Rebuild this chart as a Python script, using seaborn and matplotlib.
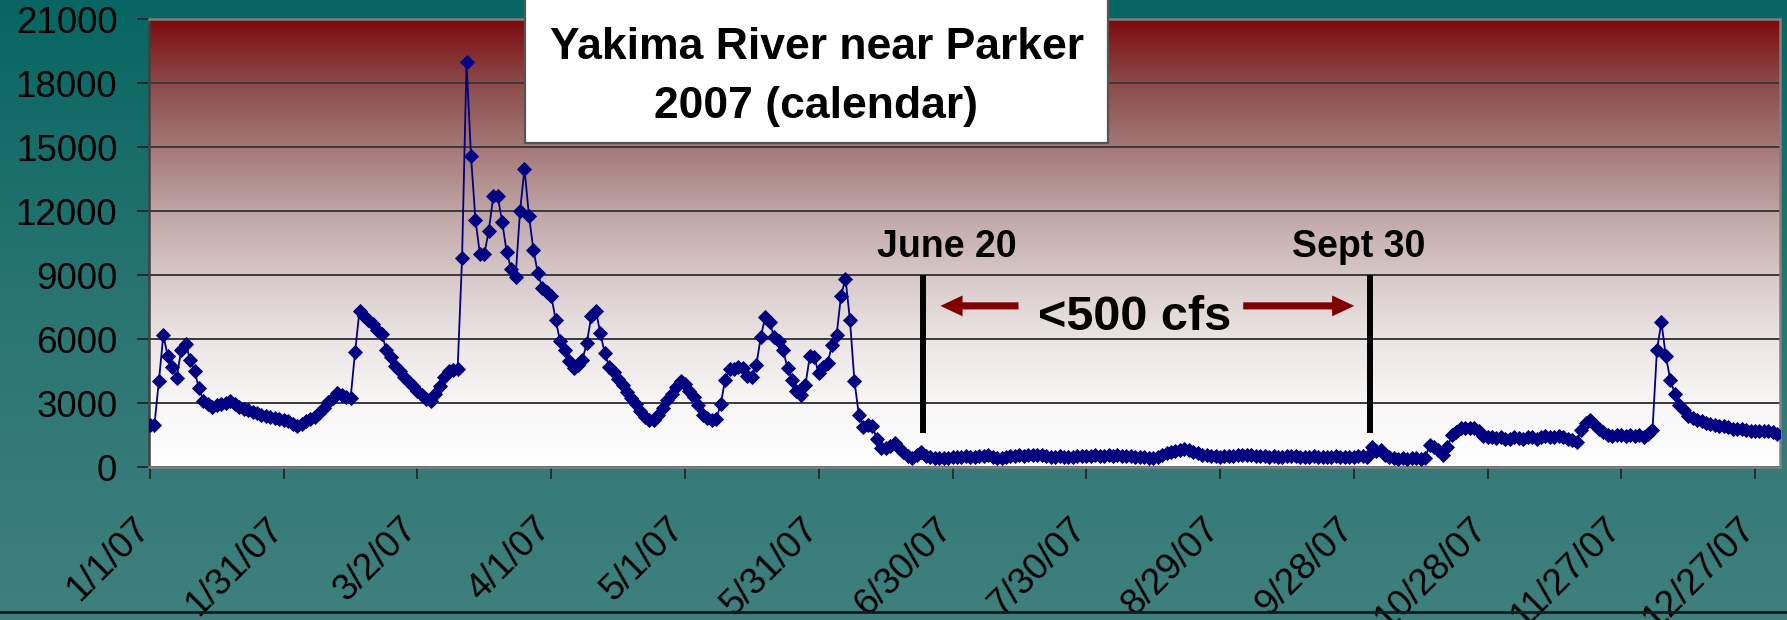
import numpy as np
import pandas as pd
import matplotlib
matplotlib.use("Agg")
import matplotlib.pyplot as plt
import seaborn as sns
from matplotlib.colors import LinearSegmentedColormap
from matplotlib.patches import Rectangle, FancyArrowPatch
from matplotlib.lines import Line2D
from matplotlib.transforms import ScaledTranslation

# ---------------- data ----------------
start_date = "2007-01-01"
flow_cfs = [
    2000, 2000, 4050, 6200, 5200, 4700, 4200, 5500, 5800, 5050,
    4500, 3700, 3100, 2950, 2850, 2900, 2950, 3000, 3100, 2950,
    2850, 2750, 2700, 2600, 2550, 2450, 2400, 2350, 2300, 2250,
    2200, 2150, 2050, 1950, 2050, 2150, 2250, 2350, 2550, 2800,
    3050, 3250, 3500, 3400, 3300, 3250, 5400, 7350, 7100, 6900,
    6700, 6450, 6250, 5500, 5150, 4750, 4500, 4250, 4000, 3800,
    3600, 3400, 3200, 3100, 3450, 3800, 4250, 4500, 4550, 4600,
    9800, 19000, 14600, 11600, 10000, 10000, 11100, 12700, 12700, 11500,
    10100, 9300, 8900, 12000, 14000, 11800, 10200, 9100, 8400, 8200,
    8050, 6900, 5900, 5500, 5000, 4650, 4800, 5050, 5850, 7100,
    7350, 6300, 5350, 4700, 4450, 4150, 3850, 3550, 3250, 2950,
    2650, 2350, 2200, 2200, 2450, 2800, 3150, 3450, 3750, 4050,
    3900, 3600, 3300, 2900, 2450, 2300, 2200, 2250, 2950, 4100,
    4600, 4600, 4700, 4650, 4300, 4250, 4800, 6100, 7050, 6800,
    6100, 5900, 5500, 4650, 4100, 3600, 3400, 3850, 5200, 5150,
    4400, 4700, 4900, 5750, 6200, 8050, 8850, 6900, 4050, 2450,
    1900, 2000, 1950, 1350, 900, 900, 1000, 1150, 900, 700,
    550, 450, 600, 700, 550, 500, 450, 420, 430, 450,
    480, 460, 500, 520, 480, 500, 520, 540, 560, 500,
    450, 430, 460, 520, 540, 560, 550, 570, 590, 600,
    560, 520, 500, 490, 510, 500, 480, 500, 520, 540,
    530, 550, 560, 540, 550, 560, 540, 560, 550, 530,
    520, 500, 480, 460, 450, 430, 480, 560, 650, 720,
    780, 820, 850, 800, 740, 650, 580, 560, 540, 520,
    500, 510, 520, 540, 560, 580, 600, 570, 540, 520,
    510, 500, 520, 500, 490, 510, 520, 510, 500, 490,
    500, 510, 500, 490, 480, 500, 510, 500, 490, 480,
    500, 510, 520, 500, 950, 750, 820, 600, 480, 420,
    400, 420, 410, 430, 420, 400, 430, 1050, 950, 800,
    580, 950, 1500, 1650, 1830, 1830, 1830, 1830, 1700, 1450,
    1400, 1400, 1380, 1400, 1350, 1350, 1400, 1380, 1350, 1400,
    1400, 1350, 1400, 1450, 1400, 1400, 1450, 1400, 1350, 1300,
    1200, 1750, 2100, 2200, 2000, 1800, 1650, 1500, 1450, 1500,
    1500, 1450, 1500, 1450, 1500, 1400, 1550, 1750, 5500, 6800,
    5200, 4100, 3450, 2900, 2700, 2400, 2300, 2200, 2150, 2100,
    2050, 2000, 1950, 1950, 1900, 1800, 1800, 1780, 1750, 1720,
    1720, 1700, 1700, 1680, 1650, 1560,
]
tick_labels = ["1/1/07", "1/31/07", "3/2/07", "4/1/07", "5/1/07", "5/31/07",
               "6/30/07", "7/30/07", "8/29/07", "9/28/07", "10/28/07",
               "11/27/07", "12/27/07"]
y_ticks = [0, 3000, 6000, 9000, 12000, 15000, 18000, 21000]
title_lines = ["Yakima River near Parker", "2007 (calendar)"]
marker_labels = ["June 20", "Sept 30"]
range_label = "<500 cfs"

# ---------------- build frame ----------------
dates = pd.date_range(start_date, periods=len(flow_cfs), freq="D")
df = pd.DataFrame({"day": (dates - dates[0]).days, "cfs": flow_cfs})
tick_days = [(pd.to_datetime(t, format="%m/%d/%y") - dates[0]).days for t in tick_labels]

plt.rcParams["font.family"] = ["Liberation Sans", "DejaVu Sans"]

W, H = 1787, 620
fig = plt.figure(figsize=(W / 100, H / 100), dpi=100)

# background gradient (teal)
bg = fig.add_axes([0, 0, 1, 1], zorder=-10)
teal = LinearSegmentedColormap.from_list("teal", ["#3f807e", "#2a7572", "#076662"])
bg.imshow(np.linspace(0, 1, 256).reshape(-1, 1), origin="lower", aspect="auto",
          cmap=teal, extent=[0, 1, 0, 1])
bg.axis("off")

# plot area in pixel geometry
L, R, T, B = 149.3, 1780, 19.3, 467.3
ax = fig.add_axes([L / W, 1 - B / H, (R - L) / W, (B - T) / H])

xlo, xhi = -0.15, 365.6
ymax = 21000
red = LinearSegmentedColormap.from_list("redgrad", [
    (0.0, "#ffffff"), (0.143, "#f8f6f6"), (0.286, "#ebe4e4"), (0.429, "#d7c8c8"),
    (0.571, "#c0a5a5"), (0.714, "#a57878"), (0.857, "#8c4b4b"), (1.0, "#7d0a0c")])
ax.imshow(np.linspace(0, 1, 256).reshape(-1, 1), origin="lower", aspect="auto",
          cmap=red, extent=[xlo, xhi, 0, ymax], zorder=0)

sns.lineplot(data=df, x="day", y="cfs", ax=ax, color="#000080", lw=1.3,
             marker="D", markersize=6.8, markeredgecolor="#000080",
             markeredgewidth=0.6, zorder=4)

ax.set_xlim(xlo, xhi)
ax.set_ylim(0, ymax)
ax.set_yticks(y_ticks)
ax.set_yticklabels([str(v) for v in y_ticks])
ax.set_xticks(tick_days)
ax.set_xticklabels(tick_labels)
ax.set_xlabel("")
ax.set_ylabel("")
ax.set_axisbelow("line")
ax.yaxis.grid(True, color="#3a3a3a", lw=1.4)
ax.xaxis.grid(False)

for s in ax.spines.values():
    s.set_color("#808080")
    s.set_linewidth(1.8)
ax.spines["left"].set_color("#404040")

ax.tick_params(axis="both", direction="out", length=8.6, width=1.2,
               color="#202020", labelsize=26.5, labelcolor="black")
ax.tick_params(axis="y", pad=14.4)
ax.tick_params(axis="x", pad=23)
shift = ScaledTranslation(-18 / 100, 0, fig.dpi_scale_trans)
for lab in ax.get_xticklabels():
    lab.set_rotation(45)
    lab.set_ha("right")
    lab.set_va("top")
    lab.set_rotation_mode("anchor")
    lab.set_transform(lab.get_transform() + shift)

# ---------------- annotations ----------------
june_day, sept_day = 173.4, 273.7
ax.vlines([june_day, sept_day], 1595, 9015, colors="black", lw=4.3, zorder=5)
ax.text(178.8, 9860, marker_labels[0], ha="center", va="baseline",
        fontsize=27, fontweight="bold", zorder=6)
ax.text(271.2, 9860, marker_labels[1], ha="center", va="baseline",
        fontsize=27, fontweight="bold", zorder=6)
ax.text(220.8, 6445, range_label, ha="center", va="baseline",
        fontsize=35, fontweight="bold", zorder=6)
arrow_y = 7567
for tail, tip in [(194.8, 177.3), (245.2, 270.1)]:
    ax.add_patch(FancyArrowPatch((tail, arrow_y), (tip, arrow_y),
                                 arrowstyle="simple,head_length=0.53,head_width=0.5,tail_width=0.17",
                                 mutation_scale=30, color="#800000", lw=0,
                                 shrinkA=0, shrinkB=0, zorder=6))

# title box
box = Rectangle((525 / W, 1 - 143.3 / H), (1108 - 525) / W, 143.3 / H + 0.02,
                transform=fig.transFigure, facecolor="white", edgecolor="#555555",
                lw=1.6, zorder=10, clip_on=False)
fig.add_artist(box)
fig.text(816.5 / W, 1 - 59 / H, title_lines[0], ha="center", va="baseline",
         fontsize=32, fontweight="bold", zorder=11)
fig.text(816.5 / W, 1 - 118.3 / H, title_lines[1], ha="center", va="baseline",
         fontsize=32, fontweight="bold", zorder=11)

# bottom slide edge line
fig.add_artist(Line2D([0, 1], [1 - 612 / H, 1 - 612 / H], transform=fig.transFigure,
                      color="#1a1a1a", lw=2, zorder=10))

fig.savefig("out.png", dpi=100)
